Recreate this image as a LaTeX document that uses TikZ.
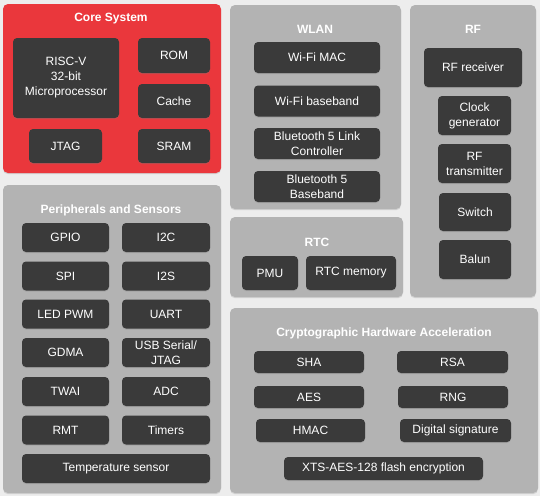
\documentclass[tikz,border=0pt]{standalone}
\usepackage{fontspec}
\setmainfont{Liberation Sans}
\usetikzlibrary{shadows}
\definecolor{pagebg}{HTML}{EDEDED}
\definecolor{panelgray}{HTML}{B3B3B3}
\definecolor{corered}{HTML}{EA373C}
\definecolor{blkdark}{HTML}{3A3A3A}
\tikzset{
  panel/.style={rounded corners=5pt, fill=panelgray,
    drop shadow={shadow xshift=0pt, shadow yshift=-1.2pt, opacity=.25}},
  ptitle/.style={text=white, font=\bfseries\fontsize{12}{14}\selectfont},
  blk/.style={rounded corners=4pt, fill=blkdark, text=white, align=center,
    inner sep=0pt, font=\fontsize{12}{15}\selectfont,
    drop shadow={shadow xshift=0pt, shadow yshift=-1pt, opacity=.3}},
}
\begin{document}
\begin{tikzpicture}[x=1pt,y=-1pt]
\fill[pagebg] (0,0) rectangle (540,496);
\useasboundingbox (0,0) rectangle (540,496);

% core system
\fill[panel, fill=corered] (3,4) rectangle (221,173);
\node[ptitle] (coretitle) at (111,19) {Core System};
\node[blk, minimum width=106pt, minimum height=80pt] (cpu) at (66,78) {RISC-V\\32-bit\\Microprocessor};
\node[blk, minimum width=72pt, minimum height=35pt] (rom) at (174,55.5) {ROM};
\node[blk, minimum width=72pt, minimum height=34pt] (cache) at (174,101) {Cache};
\node[blk, minimum width=73pt, minimum height=34pt] (jtag) at (65.5,146) {JTAG};
\node[blk, minimum width=72pt, minimum height=34pt] (sram) at (174,146) {SRAM};

% wlan
\fill[panel] (230,5) rectangle (401,209);
\node[ptitle] (wlantitle) at (315,29) {WLAN};
\foreach \name/\label/\y in {wifimac/Wi-Fi MAC/57.5, wifibb/Wi-Fi baseband/101,
    btlc/{Bluetooth 5 Link\\Controller}/143.5, btbb/{Bluetooth 5\\Baseband}/186.5}
    \node[blk, minimum width=126pt, minimum height=31pt] (\name) at (317,\y) {\label};

% rf
\fill[panel] (410,5) rectangle (536,297);
\node[ptitle] (rftitle) at (473,29) {RF};
\node[blk, minimum width=98pt, minimum height=39pt] (rfrx) at (473,67.5) {RF receiver};
\node[blk, minimum width=73pt, minimum height=39pt] (clkgen) at (474.5,115.5) {Clock\\generator};
\node[blk, minimum width=73pt, minimum height=39pt] (rftx) at (474.5,163.5) {RF\\transmitter};
\node[blk, minimum width=72pt, minimum height=38pt] (switch) at (475,212) {Switch};
\node[blk, minimum width=72pt, minimum height=39pt] (balun) at (475,259.5) {Balun};

% peripherals and sensors
\fill[panel] (3,185) rectangle (221,493);
\node[ptitle] (perititle) at (111,210) {Peripherals and Sensors};
\foreach \name/\label/\y in {gpio/GPIO/237.5, spi/SPI/276, ledpwm/LED PWM/314,
    gdma/GDMA/352.5, twai/TWAI/391.5, rmt/RMT/430}
    \node[blk, minimum width=87pt, minimum height=29pt] (\name) at (65.5,\y) {\label};
\foreach \name/\label/\y in {i2c/I2C/237.5, i2s/I2S/276, uart/UART/314,
    usbjtag/{USB Serial/\\JTAG}/352.5, adc/ADC/391.5, timers/Timers/430}
    \node[blk, minimum width=88pt, minimum height=29pt] (\name) at (166,\y) {\label};
\node[blk, minimum width=188pt, minimum height=29pt] (tsens) at (116,468.5) {Temperature sensor};

% rtc
\fill[panel] (230,217) rectangle (403,297);
\node[ptitle] (rtctitle) at (317,242) {RTC};
\node[blk, minimum width=56pt, minimum height=34pt] (pmu) at (270,273) {PMU};
\node[blk, minimum width=90pt, minimum height=34pt] (rtcmem) at (351,273) {RTC memory};

% cryptographic hardware acceleration
\fill[panel] (230,308) rectangle (538,493);
\node[ptitle] (cryptotitle) at (384,333) {Cryptographic Hardware Acceleration};
\node[blk, minimum width=110pt, minimum height=22pt] (sha) at (309,362) {SHA};
\node[blk, minimum width=111pt, minimum height=22pt] (rsa) at (452.5,362) {RSA};
\node[blk, minimum width=110pt, minimum height=22pt] (aes) at (309,397) {AES};
\node[blk, minimum width=110pt, minimum height=22pt] (rng) at (453,397) {RNG};
\node[blk, minimum width=109pt, minimum height=23pt] (hmac) at (310.5,430.5) {HMAC};
\node[blk, minimum width=111pt, minimum height=23pt] (digsig) at (455.5,430.5) {Digital signature};
\node[blk, minimum width=199pt, minimum height=23pt] (xts) at (383.5,468.5) {XTS-AES-128 flash encryption};

\end{tikzpicture}
\end{document}
